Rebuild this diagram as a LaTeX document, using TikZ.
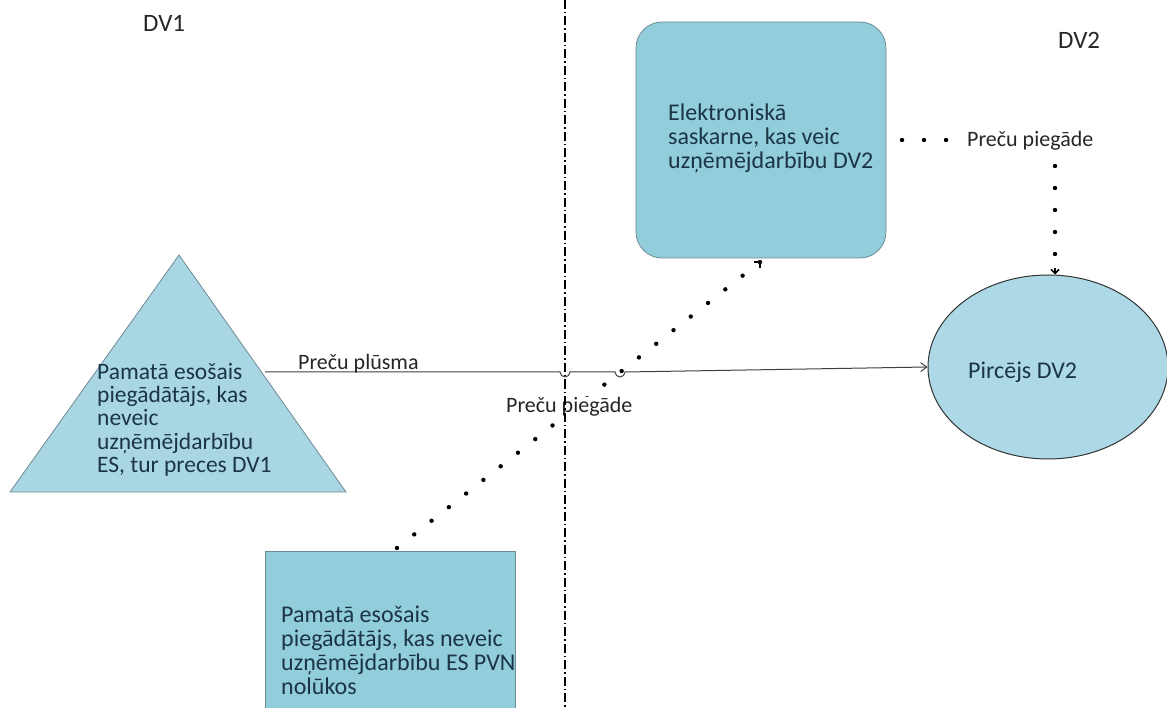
\documentclass[tikz,border=0pt]{standalone}
\usepackage{fontspec}
\setmainfont{Carlito}
\usetikzlibrary{arrows.meta,shapes.geometric}
\definecolor{txt}{HTML}{1B3545}
\definecolor{boxfill}{HTML}{92CDDC}
\definecolor{triFill}{HTML}{A9D6E3}
\definecolor{ellFill}{HTML}{ADD8E6}
\definecolor{edge}{HTML}{6E8A94}
\tikzset{
  big/.style={font=\fontsize{24}{24}\selectfont, text=txt, align=left, inner sep=0pt},
  small/.style={font=\fontsize{22}{24}\selectfont, text=black!85, inner sep=0pt},
  region/.style={font=\fontsize{25}{28}\selectfont, text=black!85, inner sep=0pt},
  dotline/.style={line width=4.4pt, line cap=round, dash pattern=on 0pt off 22pt},
  flow/.style={line width=1pt, draw=black!75}
}
\begin{document}
\begin{tikzpicture}[x=1pt,y=-1pt]
\useasboundingbox (0,0) rectangle (1167,708);

% region labels
\node[region, anchor=base west] (dv1) at (143,32) {DV1};
\node[region, anchor=base west] (dv2) at (1058,49) {DV2};

% shapes
\draw[draw=edge, fill=triFill, line width=0.8pt] (179,255) -- (346,492) -- (10,492) -- cycle;
\node[big, anchor=north west, font=\fontsize{23.5}{23.3}\selectfont] (supp1) at (97,363)
  {Pamatā esošais\\piegādātājs, kas\\neveic\\uzņēmējdarbību\\ES, tur preces DV1};

\draw[draw=edge, fill=boxfill, line width=0.8pt, rounded corners=26pt] (636,22) rectangle (886,258);
\coordinate (ifaceB) at (760,262);
\coordinate (ifaceR) at (902,140);
\node[big, anchor=north west] (iface) at (668,104)
  {Elektroniskā\\saskarne, kas veic\\uzņēmējdarbību DV2};

\draw[draw=edge, fill=boxfill, line width=0.8pt] (265,551) rectangle (515,712);
\coordinate (supp2T) at (397,548);
\node[big, anchor=north west] (supp2) at (281,606)
  {Pamatā esošais\\piegādātājs, kas neveic\\uzņēmējdarbību ES PVN\\nolūkos};

\node[ellipse, draw=black!80, fill=ellFill, line width=1pt, minimum width=240pt, minimum height=184pt, inner sep=0pt] (buyer) at (1048,367) {};
\node[big, anchor=base west] (buyerT) at (968,378) {Pircējs DV2};

% supply from the supplier to the interface
\draw[dotline] (supp2T) -- (ifaceB);
\draw[line width=2pt] (754,262) -- (760,262) -- (760,268);
\node[small, anchor=base west, fill=white, inner xsep=1pt, inner ysep=1pt] (supL) at (505,413) {Preču piegāde};

% border between the two member states
\coordinate (btop) at (565,0);
\coordinate (bbot) at (565,708);
\draw[line width=1.2pt, dash pattern=on 9pt off 3pt on 1.5pt off 3pt] (btop) -- (bbot);

% flow of goods, hopping over the border and the dotted supply line
\coordinate (fstart) at (265,372);
\draw[flow, -{Straight Barb[length=6pt,width=9pt]}]
  (fstart) -- (560,372) arc[start angle=180, end angle=0, radius=5] -- (615,372)
  arc[start angle=180, end angle=0, radius=5] -- (buyer.west);
\node[small, anchor=base west] (flowL) at (298,370) {Preču plūsma};

% supply from the interface to the buyer
\node[small, anchor=base west] (supR) at (967,147) {Preču piegāde};
\draw[dotline] (ifaceR) -- (950,140);
\coordinate (vtop) at (1055,166);
\draw[dotline] (vtop) -- (1055,262);
\draw[line width=1.5pt, -{Straight Barb[length=4pt,width=8pt]}] (1055,268) -- (buyer.north -| 1055,0);
\end{tikzpicture}
\end{document}
